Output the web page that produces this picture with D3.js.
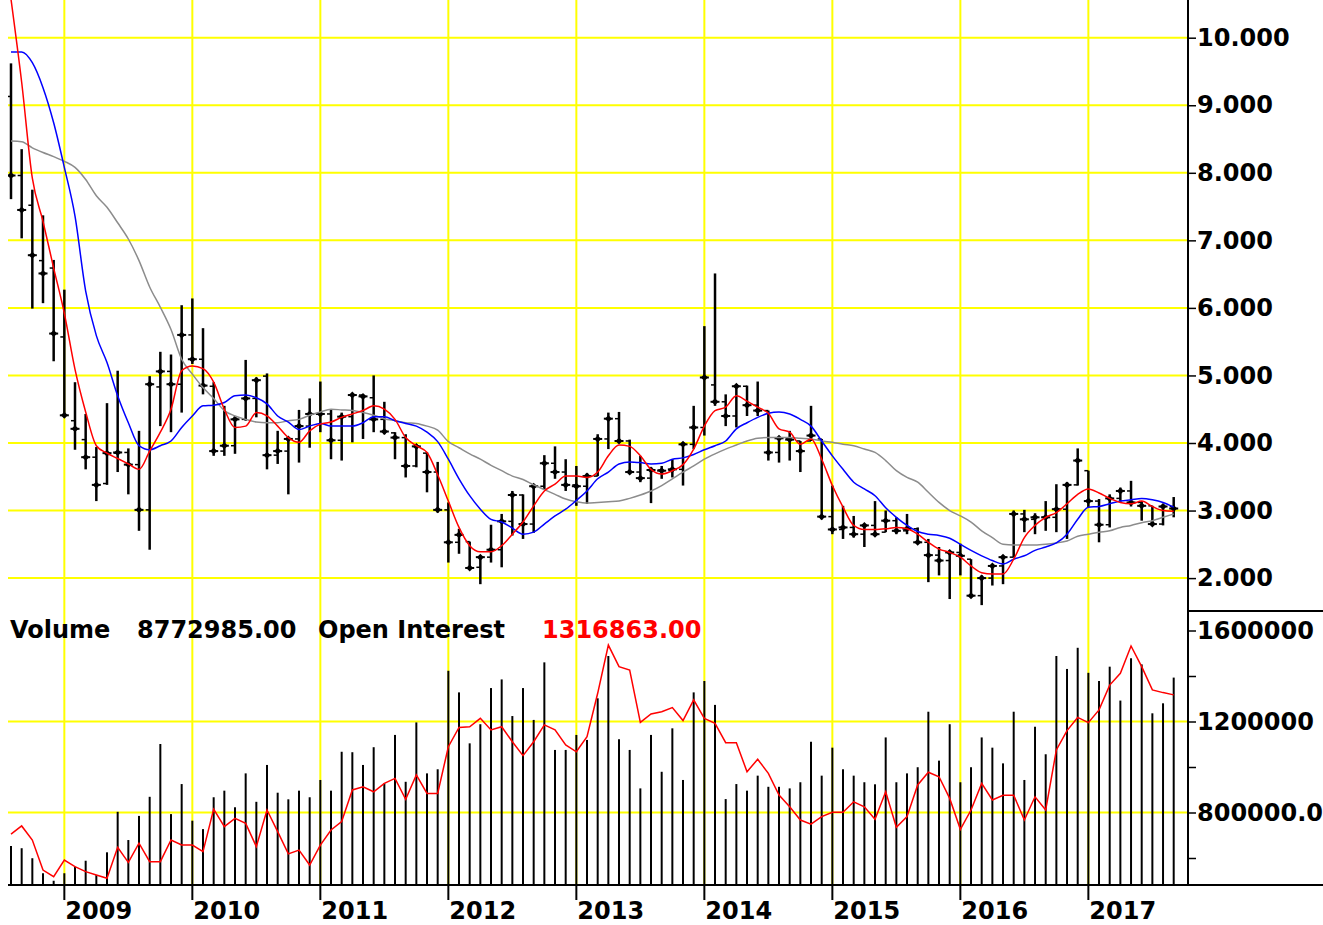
<!DOCTYPE html>
<html>
<head>
<meta charset="utf-8">
<script src="https://cdn.jsdelivr.net/npm/d3@7"></script>
<style>
  body { margin: 0; background: #fff; overflow: hidden; }
  svg { display: block; }
  text { font-family: "DejaVu Sans", sans-serif; font-weight: bold; font-size: 24px; }
</style>
</head>
<body>
<svg id="chart"></svg>
<script>
// monthly bars, Aug 2008 .. Sep 2017
const months = d3.timeMonth.range(new Date(2008, 7, 1), new Date(2017, 9, 1)).map(d3.timeFormat('%Y-%m'));
const yearLabels = ['2009', '2010', '2011', '2012', '2013', '2014', '2015', '2016', '2017'];
const priceTicks = [2, 3, 4, 5, 6, 7, 8, 9, 10];
const volTicks = [600000, 800000, 1000000, 1200000, 1400000, 1600000];
const volTickLabels = ['', '800000.0', '', '1200000', '', '1600000'];
const volGrid = [800000, 1200000];

const priceOpen = [
  9.13, 7.96, 7.52, 6.70, 6.59,
  5.57, 4.33, 4.05, 3.79, 3.40, 3.85, 3.86, 3.68, 3.01, 4.83, 5.06, 4.87,
  5.60, 5.24, 4.84, 3.88, 3.96, 4.35, 4.66, 4.99, 3.82, 3.88, 4.06, 4.25,
  4.43, 4.43, 4.04, 4.39, 4.71, 4.67, 4.35, 4.15, 4.08, 3.66, 3.85, 3.57,
  3.01, 2.53, 2.54, 2.16, 2.31, 2.42, 2.84, 3.23, 2.80, 3.36, 3.70, 3.57,
  3.38, 3.36, 3.51, 4.06, 4.36, 4.03, 3.57, 3.48, 3.60, 3.59, 3.61, 3.98,
  4.23, 4.86, 4.61, 4.40, 4.84, 4.56, 4.48, 3.86, 4.07, 4.03, 4.03, 4.06,
  2.91, 2.72, 2.75, 2.65, 2.78, 2.68, 2.85, 2.70, 2.73, 2.53, 2.34, 2.26,
  2.38, 2.28, 1.74, 2.00, 2.18, 2.31, 2.95, 2.87, 2.90, 2.90, 3.02, 3.38,
  3.59, 3.14, 2.79, 3.18, 3.29, 3.12, 3.07, 2.80, 3.06
];
const priceHigh = [
  9.62, 8.35, 7.75, 7.37, 6.71,
  6.27, 4.90, 4.43, 3.94, 4.59, 5.07, 3.92, 4.18, 4.99, 5.35, 5.31, 6.04,
  6.14, 5.70, 4.90, 4.55, 4.40, 5.23, 4.97, 5.03, 4.18, 4.07, 4.49, 4.66,
  4.91, 4.50, 4.45, 4.73, 4.72, 5.00, 4.61, 4.16, 4.13, 3.98, 3.86, 3.72,
  3.12, 2.73, 2.54, 2.33, 2.79, 2.95, 3.29, 3.24, 3.38, 3.82, 3.95, 3.76,
  3.66, 3.55, 4.13, 4.45, 4.46, 4.05, 3.81, 3.64, 3.66, 3.76, 4.01, 4.55,
  5.73, 6.51, 4.72, 4.87, 4.85, 4.91, 4.48, 4.08, 4.18, 4.03, 4.55, 4.06,
  3.37, 3.07, 2.92, 2.80, 3.14, 3.00, 2.90, 2.95, 2.75, 2.58, 2.46, 2.41,
  2.51, 2.28, 2.04, 2.18, 2.33, 3.00, 3.01, 2.96, 3.14, 3.39, 3.42, 3.92,
  3.59, 3.17, 3.24, 3.34, 3.44, 3.14, 3.07, 3.10, 3.20
];
const priceLow = [
  7.61, 7.03, 5.99, 6.07, 5.21,
  4.38, 3.90, 3.61, 3.14, 3.38, 3.57, 3.24, 2.70, 2.42, 4.25, 4.16, 4.45,
  5.17, 4.72, 3.81, 3.81, 3.84, 4.33, 4.38, 3.61, 3.69, 3.24, 3.71, 3.93,
  4.16, 3.76, 3.74, 4.01, 4.06, 4.16, 4.13, 3.76, 3.49, 3.64, 3.27, 2.97,
  2.23, 2.36, 2.12, 1.91, 2.23, 2.16, 2.63, 2.58, 2.67, 3.31, 3.47, 3.29,
  3.07, 3.10, 3.51, 3.91, 4.01, 3.54, 3.42, 3.11, 3.47, 3.49, 3.37, 3.91,
  4.11, 4.55, 4.25, 4.23, 4.40, 4.40, 3.74, 3.71, 3.74, 3.57, 4.03, 2.87,
  2.65, 2.58, 2.60, 2.46, 2.63, 2.68, 2.65, 2.65, 2.53, 1.94, 2.04, 1.69,
  2.04, 1.72, 1.60, 1.89, 1.91, 2.31, 2.68, 2.65, 2.70, 2.68, 2.58, 3.37,
  3.05, 2.53, 2.75, 3.13, 3.06, 2.85, 2.78, 2.78, 2.90
];
const priceClose = [
  7.96, 7.45, 6.78, 6.51, 5.62,
  4.41, 4.21, 3.79, 3.38, 3.85, 3.86, 3.68, 3.01, 4.87, 5.06, 4.87, 5.60,
  5.24, 4.85, 3.88, 3.96, 4.35, 4.66, 4.93, 3.82, 3.88, 4.06, 4.25, 4.43,
  4.43, 4.04, 4.39, 4.71, 4.69, 4.35, 4.17, 4.08, 3.66, 3.95, 3.57, 3.01,
  2.53, 2.64, 2.15, 2.31, 2.42, 2.84, 3.23, 2.80, 3.36, 3.70, 3.57, 3.38,
  3.36, 3.51, 4.06, 4.36, 4.03, 3.57, 3.48, 3.60, 3.59, 3.61, 3.98, 4.23,
  4.97, 4.61, 4.40, 4.84, 4.56, 4.48, 3.86, 4.07, 4.05, 3.88, 4.11, 2.91,
  2.72, 2.75, 2.65, 2.78, 2.65, 2.85, 2.70, 2.73, 2.53, 2.34, 2.26, 2.38,
  2.33, 1.74, 2.00, 2.18, 2.31, 2.95, 2.87, 2.90, 2.90, 3.02, 3.38, 3.74,
  3.14, 2.79, 3.18, 3.29, 3.12, 3.07, 2.80, 3.06, 3.03
];
// moving averages as drawn (red fast, blue medium, grey slow)
const maFast = [
  10.57, 9.34, 7.92, 7.28, 6.59,
  5.92, 5.09, 4.46, 3.96, 3.85, 3.77, 3.69, 3.61, 3.88, 4.16, 4.50, 5.07,
  5.14, 5.10, 4.90, 4.50, 4.23, 4.25, 4.45, 4.40, 4.25, 4.08, 4.01, 4.18,
  4.28, 4.31, 4.38, 4.43, 4.48, 4.55, 4.50, 4.35, 4.08, 3.96, 3.86, 3.53,
  3.14, 2.75, 2.48, 2.39, 2.39, 2.48, 2.65, 2.83, 3.07, 3.29, 3.39, 3.51,
  3.51, 3.49, 3.57, 3.81, 3.97, 3.95, 3.81, 3.61, 3.54, 3.59, 3.68, 3.91,
  4.25, 4.48, 4.53, 4.70, 4.62, 4.53, 4.44, 4.21, 4.16, 3.98, 4.06, 3.76,
  3.37, 3.05, 2.78, 2.72, 2.72, 2.73, 2.75, 2.73, 2.65, 2.53, 2.43, 2.38,
  2.31, 2.18, 2.08, 2.06, 2.06, 2.28, 2.60, 2.78, 2.90, 2.97, 3.10, 3.24,
  3.32, 3.26, 3.18, 3.12, 3.10, 3.14, 3.06, 3.00, 2.99
];
const maMid = [
  9.79, 9.79, 9.63, 9.26, 8.74,
  8.08, 7.36, 6.25, 5.59, 5.19, 4.70, 4.30, 3.96, 3.90, 3.96, 4.03, 4.23,
  4.40, 4.55, 4.56, 4.60, 4.70, 4.71, 4.67, 4.58, 4.40, 4.31, 4.20, 4.25,
  4.29, 4.25, 4.25, 4.25, 4.30, 4.39, 4.39, 4.33, 4.29, 4.25, 4.16, 4.02,
  3.76, 3.47, 3.22, 3.02, 2.87, 2.83, 2.74, 2.65, 2.68, 2.80, 2.92, 3.02,
  3.15, 3.29, 3.47, 3.57, 3.69, 3.72, 3.71, 3.69, 3.70, 3.76, 3.78, 3.83,
  3.90, 3.96, 4.03, 4.21, 4.30, 4.38, 4.44, 4.46, 4.43, 4.35, 4.25, 4.03,
  3.81, 3.61, 3.42, 3.32, 3.22, 3.04, 2.90, 2.78, 2.69, 2.65, 2.63, 2.59,
  2.50, 2.41, 2.33, 2.26, 2.21, 2.28, 2.33, 2.41, 2.46, 2.52, 2.65, 2.87,
  3.05, 3.06, 3.10, 3.14, 3.16, 3.18, 3.16, 3.12, 3.05
];
const maSlow = [
  8.47, 8.46, 8.37, 8.30, 8.24,
  8.17, 8.08, 7.90, 7.66, 7.49, 7.26, 7.02, 6.70, 6.31, 6.01, 5.68, 5.24,
  5.02, 4.82, 4.66, 4.48, 4.40, 4.35, 4.31, 4.30, 4.30, 4.33, 4.35, 4.41,
  4.46, 4.50, 4.49, 4.48, 4.45, 4.41, 4.36, 4.33, 4.30, 4.29, 4.25, 4.19,
  4.02, 3.93, 3.84, 3.76, 3.67, 3.59, 3.51, 3.46, 3.38, 3.31, 3.24, 3.17,
  3.13, 3.11, 3.12, 3.13, 3.14, 3.18, 3.23, 3.29, 3.37, 3.47, 3.57, 3.66,
  3.76, 3.84, 3.91, 3.97, 4.03, 4.07, 4.08, 4.08, 4.08, 4.07, 4.06, 4.03,
  4.01, 3.98, 3.96, 3.91, 3.86, 3.74, 3.59, 3.49, 3.42, 3.27, 3.12, 3.00,
  2.92, 2.83, 2.70, 2.60, 2.50, 2.49, 2.49, 2.49, 2.50, 2.52, 2.55, 2.62,
  2.65, 2.68, 2.70, 2.75, 2.78, 2.82, 2.85, 2.90, 2.95
];
const volume = [
  653000, 643000, 599000, 533000, 500000,
  533000, 562000, 588000, 525000, 625000, 803000, 679000, 785000, 869000, 1101000, 793000, 925000,
  764000, 727000, 867000, 896000, 823000, 972000, 847000, 1009000, 887000, 858000, 896000, 867000,
  943000, 896000, 1067000, 1065000, 1009000, 1087000, 928000, 1141000, 935000, 1196000, 972000, 990000,
  1423000, 1328000, 1104000, 1188000, 1347000, 1385000, 1224000, 1347000, 1207000, 1460000, 1075000, 1075000,
  1141000, 1119000, 1302000, 1488000, 1122000, 1075000, 906000, 1141000, 979000, 1170000, 943000, 1328000,
  1378000, 1273000, 859000, 925000, 896000, 962000, 913000, 913000, 906000, 933000, 1111000, 962000,
  1085000, 990000, 962000, 933000, 924000, 1130000, 933000, 972000, 999000, 1243000, 1028000, 1188000,
  933000, 999000, 1130000, 1085000, 1016000, 1243000, 943000, 1177000, 1056000, 1488000, 1431000, 1524000,
  1414000, 1378000, 1441000, 1292000, 1478000, 1451000, 1236000, 1280000, 1393000
];
const openInterest = [
  705000, 741000, 679000, 547000, 518000,
  591000, 562000, 540000, 525000, 511000, 647000, 581000, 665000, 584000, 584000, 679000, 657000,
  657000, 628000, 815000, 738000, 774000, 752000, 650000, 811000, 716000, 618000, 635000, 569000,
  657000, 723000, 760000, 899000, 913000, 891000, 928000, 950000, 858000, 965000, 884000, 884000,
  1089000, 1174000, 1177000, 1214000, 1163000, 1177000, 1111000, 1050000, 1111000, 1185000, 1163000, 1097000,
  1067000, 1133000, 1324000, 1536000, 1441000, 1426000, 1196000, 1233000, 1243000, 1261000, 1204000, 1295000,
  1214000, 1192000, 1107000, 1107000, 979000, 1034000, 972000, 877000, 825000, 767000, 749000, 782000,
  801000, 801000, 847000, 825000, 770000, 891000, 735000, 782000, 921000, 977000, 957000, 862000,
  726000, 811000, 928000, 855000, 876000, 876000, 767000, 869000, 811000, 1075000, 1160000, 1218000,
  1195000, 1251000, 1360000, 1412000, 1532000, 1441000, 1339000, 1327000, 1317000
];
const legendVolume = '8772985.00';
const legendOI = '1316863.00';

class PriceVolumeChart {

  constructor(_config) {
    this.config = {
      parentElement: _config.parentElement,
      containerWidth: 1323,
      containerHeight: 925,
      plotLeft: 8,
      axisX: 1188,
      priceBottom: 611,
      volBottom: 885
    };
    this.initVis();
  }

  initVis() {
    let vis = this;
    const c = vis.config;

    vis.svg = d3.select(c.parentElement)
        .attr('width', c.containerWidth)
        .attr('height', c.containerHeight);

    vis.xScale = d3.scalePoint()
        .domain(months)
        .range([11, 1173.7]);

    vis.yPrice = d3.scaleLinear()
        .domain([2, 10])
        .range([578.1, 37.7]);

    vis.yVol = d3.scaleLinear()
        .domain([480000, 1600000])
        .range([885.3, 630.5]);

    vis.svg.append('clipPath').attr('id', 'clip-price')
      .append('rect').attr('x', c.plotLeft).attr('y', 0)
        .attr('width', c.axisX - c.plotLeft).attr('height', c.priceBottom);
    vis.svg.append('clipPath').attr('id', 'clip-vol')
      .append('rect').attr('x', c.plotLeft).attr('y', c.priceBottom)
        .attr('width', c.axisX - c.plotLeft).attr('height', c.volBottom - c.priceBottom);

    // yellow grid
    const grid = vis.svg.append('g').attr('stroke', '#ffff00').attr('stroke-width', 2);
    grid.selectAll('.hp').data(priceTicks).join('line')
        .attr('x1', c.plotLeft).attr('x2', c.axisX)
        .attr('y1', d => vis.yPrice(d)).attr('y2', d => vis.yPrice(d));
    grid.selectAll('.hv').data(volGrid).join('line')
        .attr('x1', c.plotLeft).attr('x2', c.axisX)
        .attr('y1', d => vis.yVol(d)).attr('y2', d => vis.yVol(d));
    grid.selectAll('.vy').data(yearLabels).join('line')
        .attr('x1', d => vis.xScale(d + '-01')).attr('x2', d => vis.xScale(d + '-01'))
        .attr('y1', 0).attr('y2', c.volBottom);

    vis.priceData = months.map((m, i) => ({
      m: m, o: priceOpen[i], h: priceHigh[i], l: priceLow[i], c: priceClose[i]
    }));
    vis.volData = months.map((m, i) => ({ m: m, v: volume[i], oi: openInterest[i] }));

    // volume panel
    const volG = vis.svg.append('g').attr('clip-path', 'url(#clip-vol)');
    volG.selectAll('.vbar').data(vis.volData).join('line')
        .attr('x1', d => vis.xScale(d.m)).attr('x2', d => vis.xScale(d.m))
        .attr('y1', c.volBottom).attr('y2', d => vis.yVol(d.v))
        .attr('stroke', '#000').attr('stroke-width', 2);
    volG.append('path')
        .datum(vis.volData)
        .attr('fill', 'none').attr('stroke', '#ff0000').attr('stroke-width', 1.5)
        .attr('d', d3.line().x(d => vis.xScale(d.m)).y(d => vis.yVol(d.oi)));

    // price panel
    const priceG = vis.svg.append('g').attr('clip-path', 'url(#clip-price)');
    const bars = priceG.selectAll('.bar').data(vis.priceData).join('g');
    bars.append('line')
        .attr('x1', d => vis.xScale(d.m)).attr('x2', d => vis.xScale(d.m))
        .attr('y1', d => vis.yPrice(d.h)).attr('y2', d => vis.yPrice(d.l))
        .attr('stroke', '#000').attr('stroke-width', 2.5);
    bars.append('line')
        .attr('x1', d => vis.xScale(d.m) - 4).attr('x2', d => vis.xScale(d.m))
        .attr('y1', d => vis.yPrice(d.o)).attr('y2', d => vis.yPrice(d.o))
        .attr('stroke', '#000').attr('stroke-width', 1.5);
    bars.append('line')
        .attr('x1', d => vis.xScale(d.m) - 4.5).attr('x2', d => vis.xScale(d.m) + 4.5)
        .attr('y1', d => vis.yPrice(d.c)).attr('y2', d => vis.yPrice(d.c))
        .attr('stroke', '#000').attr('stroke-width', 2);
    bars.append('path')
        .attr('d', d => {
          const x = vis.xScale(d.m), y = vis.yPrice(d.c);
          return `M${x - 3.5},${y}L${x},${y - 3.5}L${x + 3.5},${y}L${x},${y + 3.5}Z`;
        })
        .attr('fill', '#000');

    const maLine = d3.line()
        .x((d, i) => vis.xScale(months[i]))
        .y(d => vis.yPrice(d))
        .curve(d3.curveMonotoneX);
    [[maSlow, '#8c8c8c'], [maMid, '#0000ff'], [maFast, '#ff0000']].forEach(([s, col]) => {
      priceG.append('path')
          .datum(s)
          .attr('fill', 'none').attr('stroke', col).attr('stroke-width', 1.5)
          .attr('d', maLine);
    });

    // axes
    vis.priceAxis = d3.axisRight(vis.yPrice)
        .tickValues(priceTicks)
        .tickFormat(d3.format('.3f'))
        .tickSize(8).tickPadding(1);
    vis.volAxis = d3.axisRight(vis.yVol)
        .tickValues(volTicks)
        .tickFormat((d, i) => volTickLabels[i])
        .tickSize(8).tickPadding(1);

    [vis.priceAxis, vis.volAxis].forEach(ax => {
      const g = vis.svg.append('g')
          .attr('transform', `translate(${c.axisX},0)`)
          .call(ax);
      g.select('.domain').remove();
      g.selectAll('line').attr('stroke', '#000').attr('stroke-width', 1.5);
      g.selectAll('text')
          .attr('fill', '#000')
          .attr('font-size', 24)
          .attr('font-family', '"DejaVu Sans", sans-serif')
          .attr('font-weight', 'bold');
    });

    vis.svg.append('line')
        .attr('x1', c.axisX).attr('x2', c.axisX)
        .attr('y1', 0).attr('y2', c.volBottom + 1)
        .attr('stroke', '#000').attr('stroke-width', 2);
    vis.svg.append('line')
        .attr('x1', c.axisX).attr('x2', c.containerWidth)
        .attr('y1', c.priceBottom).attr('y2', c.priceBottom)
        .attr('stroke', '#000').attr('stroke-width', 2);
    vis.svg.append('line')
        .attr('x1', c.plotLeft).attr('x2', c.containerWidth)
        .attr('y1', c.volBottom).attr('y2', c.volBottom)
        .attr('stroke', '#000').attr('stroke-width', 2);

    // year ticks + labels
    vis.svg.selectAll('.ytick').data(yearLabels).join('line')
        .attr('x1', d => vis.xScale(d + '-01')).attr('x2', d => vis.xScale(d + '-01'))
        .attr('y1', c.volBottom).attr('y2', c.volBottom + 15)
        .attr('stroke', '#000').attr('stroke-width', 2);
    vis.svg.selectAll('.ylabel').data(yearLabels).join('text')
        .attr('x', d => vis.xScale(d + '-01') + 1)
        .attr('y', 919)
        .text(d => d);

    // legend
    const legend = [
      { t: 'Volume', x: 10, col: '#000' },
      { t: legendVolume, x: 137, col: '#000' },
      { t: 'Open Interest', x: 318, col: '#000' },
      { t: legendOI, x: 542, col: '#ff0000' }
    ];
    vis.svg.selectAll('.legend').data(legend).join('text')
        .attr('x', d => d.x).attr('y', 638)
        .attr('fill', d => d.col)
        .text(d => d.t);
  }
}

new PriceVolumeChart({ parentElement: '#chart' });
</script>
</body>
</html>
